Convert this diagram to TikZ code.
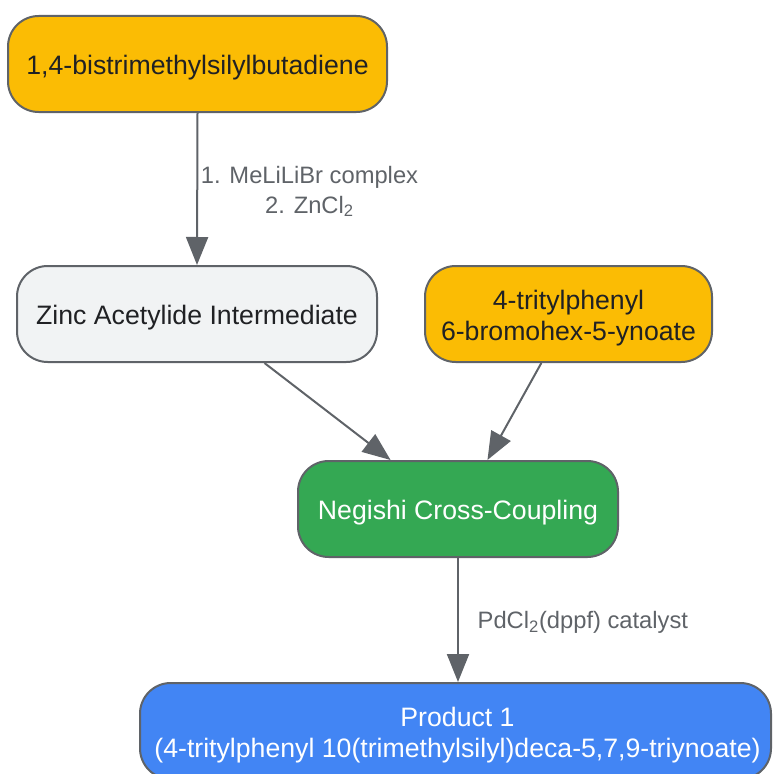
\documentclass[tikz,border=0pt]{standalone}
\usepackage{fontspec}
\setmainfont{Liberation Sans}
\usetikzlibrary{arrows.meta,calc}
\definecolor{bordergray}{HTML}{5F6368}
\definecolor{gyellow}{HTML}{FBBC04}
\definecolor{ggreen}{HTML}{34A853}
\definecolor{gblue}{HTML}{4285F4}
\definecolor{glight}{HTML}{F1F3F4}
\definecolor{gtext}{HTML}{202124}
\tikzset{
  box/.style={draw=bordergray, line width=1.5pt, rounded corners=23pt, inner sep=0pt,
    minimum height=96*0.75pt},
  boxtext/.style={align=center, font=\fontsize{20}{23.5}\selectfont, text=gtext,
    inner sep=0pt, yshift=-3pt},
  whitetext/.style={boxtext, text=white},
  conn/.style={draw=bordergray, line width=1.5pt, -{Triangle[width=16.5pt,length=21pt]}},
  lbl/.style={font=\fontsize{17.8}{22}\selectfont, text=bordergray, inner sep=0pt, align=center, yshift=-2pt}
}
\begin{document}
\begin{tikzpicture}[x=0.75pt,y=-0.75pt]
\useasboundingbox (0,0) rectangle (772,774);
\node[box, fill=gyellow, minimum width=379*0.75pt,
  label={[boxtext]center:1,4-bistrimethylsilylbutadiene}] (A) at (197.5,64) {};
\node[box, fill=glight, minimum width=360*0.75pt,
  label={[boxtext]center:Zinc Acetylide Intermediate}] (B) at (197,314) {};
\node[box, fill=gyellow, minimum width=287*0.75pt,
  label={[boxtext]center:{4-tritylphenyl\\6-bromohex-5-ynoate}}] (C) at (568.5,314) {};
\node[box, fill=ggreen, minimum width=320*0.75pt,
  label={[whitetext]center:Negishi Cross-Coupling}] (D) at (458,509) {};
\node[box, fill=gblue, minimum width=631*0.75pt,
  label={[whitetext, xshift=1.5pt]center:{Product 1\\(4-tritylphenyl 10(trimethylsilyl)deca-5,7,9-triynoate)}}] (E) at (455.5,731) {};
\draw[conn] (A.south) -- node[lbl, right, xshift=2pt] {1. MeLiLiBr complex\\2. ZnCl\textsubscript{2}} (B.north);
\draw[conn] (B.-36.4) -- (D.144.2);
\draw[conn] (C.-119.3) -- (D.59.4);
\draw[conn] (D.south) -- node[lbl, right, xshift=14pt] {PdCl\textsubscript{2}(dppf) catalyst} ($(E.north)+(2.5,0)$);
\end{tikzpicture}
\end{document}
